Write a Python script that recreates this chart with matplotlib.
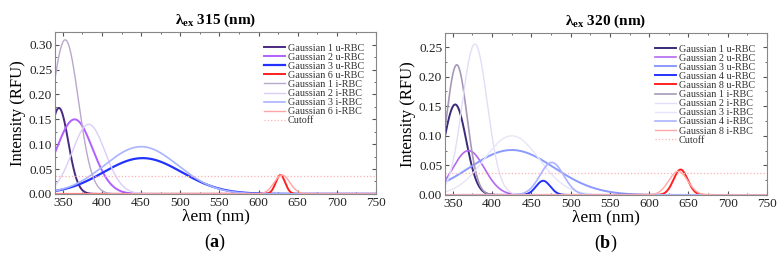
import numpy as np
import matplotlib.pyplot as plt
from matplotlib.ticker import MultipleLocator

plt.rcParams['font.family'] = 'Liberation Serif'
plt.rcParams['mathtext.fontset'] = 'custom'
plt.rcParams['mathtext.rm'] = 'Liberation Serif'
plt.rcParams['mathtext.bf'] = 'Liberation Serif:bold'
plt.rcParams['mathtext.it'] = 'Liberation Serif:italic'

# panel (a): excitation 315 nm
labels_a = ["Gaussian 1 u-RBC", "Gaussian 2 u-RBC", "Gaussian 3 u-RBC", "Gaussian 6 u-RBC",
            "Gaussian 1 i-RBC", "Gaussian 2 i-RBC", "Gaussian 3 i-RBC", "Gaussian 6 i-RBC"]
amp_a = [0.173, 0.150, 0.072, 0.038, 0.310, 0.140, 0.095, 0.038]
center_a = [345, 365, 452, 628, 353, 383, 450, 630]
sigma_a = [12, 23, 50, 6, 17, 21, 47, 10]
cutoff_a = 0.037

# panel (b): excitation 320 nm
labels_b = ["Gaussian 1 u-RBC", "Gaussian 2 u-RBC", "Gaussian 3 u-RBC", "Gaussian 4 u-RBC",
            "Gaussian 8 u-RBC", "Gaussian 1 i-RBC", "Gaussian 2 i-RBC", "Gaussian 3 i-RBC",
            "Gaussian 4 i-RBC", "Gaussian 8 i-RBC"]
amp_b = [0.153, 0.075, 0.076, 0.024, 0.043, 0.220, 0.255, 0.100, 0.055, 0.040]
center_b = [353, 370, 425, 465, 640, 355, 378, 425, 476, 637]
sigma_b = [14, 20, 54, 9, 9, 13, 16, 35, 15, 12]
cutoff_b = 0.037

colors_a = ['#4a2a80', '#b060ff', '#2233ff', '#ff2020',
            '#b8a8cc', '#dccdf8', '#a8b4ff', '#ffa4a4']
lw_a = [1.4, 1.4, 1.6, 1.4, 1.0, 1.0, 1.2, 1.0]
colors_b = ['#3a2a7a', '#b468f0', '#8a9aff', '#2233ff', '#ff2020',
            '#a898b8', '#e4ddf8', '#e6e6fa', '#aab4ff', '#ffa8a8']
lw_b = [1.4, 1.2, 1.4, 1.4, 1.4, 1.2, 1.0, 1.0, 1.2, 1.0]

x = np.linspace(340, 750, 2000)

fig = plt.figure(figsize=(7.8, 2.61), dpi=100)
ax1 = fig.add_axes([0.0705, 0.257, 0.4115, 0.621])
ax2 = fig.add_axes([0.5705, 0.253, 0.4128, 0.621])


def panel(ax, labels, amp, center, sigma, colors, lws, cutoff, ymax, title, letter):
    for lab, a, c, s, col, lw in zip(labels, amp, center, sigma, colors, lws):
        ax.plot(x, a * np.exp(-(x - c) ** 2 / (2.0 * s ** 2)), color=col, lw=lw, label=lab)
    ax.axhline(cutoff, color='#ffb0b0', lw=0.9, ls=':', label='Cutoff')
    ax.set_xlim(340, 750)
    ax.set_ylim(0, ymax)
    ax.xaxis.set_major_locator(MultipleLocator(50))
    ax.xaxis.set_minor_locator(MultipleLocator(25))
    ax.yaxis.set_major_locator(MultipleLocator(0.05))
    ax.yaxis.set_minor_locator(MultipleLocator(0.025))
    ax.yaxis.set_major_formatter(plt.FormatStrFormatter('%.2f'))
    ax.tick_params(which='both', direction='in', top=True, right=True, colors='#555555',
                   labelcolor='#222222', labelsize=9.5, pad=2)
    ax.tick_params(which='major', length=3)
    ax.tick_params(which='minor', length=1.5)
    for sp in ax.spines.values():
        sp.set_color('#888888')
        sp.set_linewidth(0.8)
    ax.set_xlabel('λem (nm)', fontsize=12.5, labelpad=0)
    ax.set_ylabel('Intensity (RFU)', fontsize=12, labelpad=2)
    ax.set_title(r'$\mathbf{λ_{ex}}$ ' + title, fontsize=11, fontweight='bold', pad=6)
    leg = ax.legend(loc='upper right', frameon=False, fontsize=7.3, labelspacing=0.0,
                    handlelength=2.1, handletextpad=0.3, borderaxespad=0.75)
    for t in leg.get_texts():
        t.set_color('#333333')
    ax.text(0.5, -0.30, '(' + r'$\mathbf{' + letter + '}$' + ')', transform=ax.transAxes,
            ha='center', va='center', fontsize=13)


panel(ax1, labels_a, amp_a, center_a, sigma_a, colors_a, lw_a, cutoff_a, 0.326,
      '315 (nm)', 'a')
panel(ax2, labels_b, amp_b, center_b, sigma_b, colors_b, lw_b, cutoff_b, 0.274,
      '320 (nm)', 'b')

fig.savefig('out.png', dpi=100)
